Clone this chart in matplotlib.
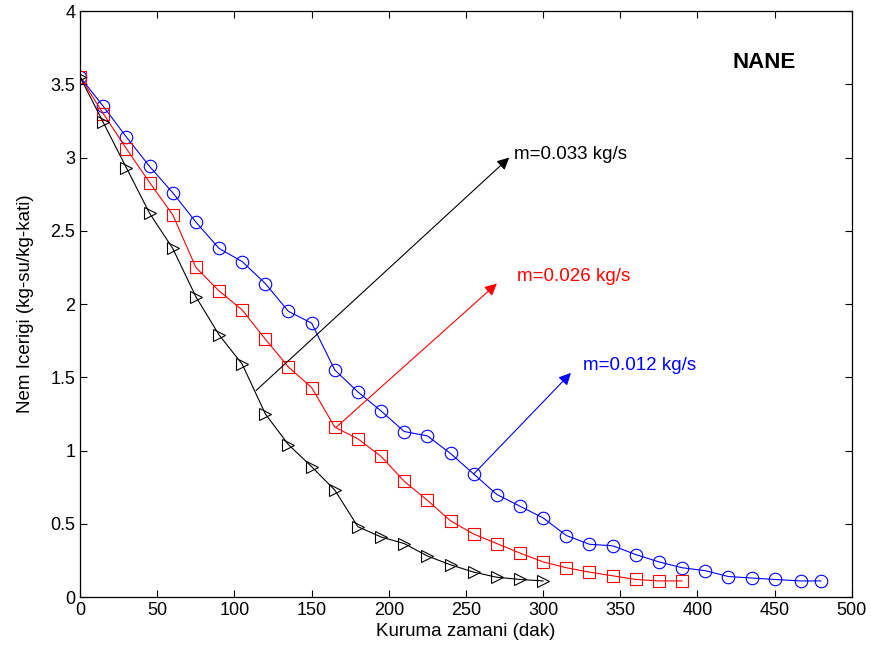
import matplotlib
matplotlib.use("Agg")
import matplotlib.pyplot as plt

plt.rcParams['font.family'] = ['Liberation Sans', 'DejaVu Sans']

# Kuruma zamani (dak) ve nem icerigi - NANE
t_012 = [0, 15, 30, 45, 60, 75, 90, 105, 120, 135, 150, 165, 180, 195, 210, 225,
         240, 255, 270, 285, 300, 315, 330, 345, 360, 375, 390, 405, 420, 435, 450,
         467, 480]
m_012 = [3.55, 3.35, 3.14, 2.94, 2.76, 2.56, 2.38, 2.29, 2.14, 1.95, 1.87, 1.55,
         1.40, 1.27, 1.13, 1.10, 0.98, 0.84, 0.70, 0.62, 0.54, 0.42, 0.36, 0.35,
         0.29, 0.24, 0.20, 0.18, 0.14, 0.13, 0.12, 0.11, 0.11]

t_026 = [0, 15, 30, 45, 60, 75, 90, 105, 120, 135, 150, 165, 180, 195, 210, 225,
         240, 255, 270, 285, 300, 315, 330, 345, 360, 375, 390]
m_026 = [3.55, 3.30, 3.06, 2.83, 2.61, 2.25, 2.09, 1.96, 1.76, 1.57, 1.43, 1.16,
         1.08, 0.96, 0.79, 0.66, 0.52, 0.43, 0.365, 0.30, 0.24, 0.20, 0.17, 0.145,
         0.12, 0.11, 0.11]

t_033 = [0, 15, 30, 45, 60, 75, 90, 105, 120, 135, 150, 165, 180, 195, 210, 225,
         240, 255, 270, 285, 300]
m_033 = [3.55, 3.24, 2.93, 2.62, 2.38, 2.05, 1.79, 1.59, 1.25, 1.04, 0.89, 0.73,
         0.48, 0.41, 0.365, 0.28, 0.22, 0.17, 0.135, 0.12, 0.11]

fig = plt.figure(figsize=(8.71, 6.55), dpi=100)
ax = fig.add_axes([0.092, 0.0885, 0.886, 0.8945])

ax.plot(t_012, m_012, '-o', color='blue', lw=0.8, ms=9, mfc='none', mew=0.8)
ax.plot(t_026, m_026, '-s', color='red', lw=0.8, ms=8.5, mfc='none', mew=0.8)
ax.plot(t_033, m_033, '->', color='black', lw=0.8, ms=8.5, mfc='none', mew=0.8)

# oklar ve etiketler
arrows = [
    ((114, 1.41), (278, 3.0), 'black', (281, 3.02), 'm=0.033 kg/s'),
    ((166, 1.16), (270, 2.14), 'red', (283, 2.19), 'm=0.026 kg/s'),
    ((255, 0.84), (318, 1.53), 'blue', (326, 1.58), 'm=0.012 kg/s'),
]
for start, tip, c, txt_pos, txt in arrows:
    ax.annotate('', xy=tip, xytext=start,
                arrowprops=dict(arrowstyle='-|>', color=c, lw=0.8,
                                mutation_scale=18, shrinkA=0, shrinkB=0))
    ax.text(txt_pos[0], txt_pos[1], txt, color=c, fontsize=13.5,
            ha='left', va='center')

ax.text(443, 3.65, 'NANE', fontsize=16, fontweight='bold', ha='center', va='center')

ax.set_xlim(0, 500)
ax.set_ylim(0, 4)
ax.set_xticks(range(0, 501, 50))
ax.set_yticks([0, 0.5, 1, 1.5, 2, 2.5, 3, 3.5, 4])
ax.set_yticklabels(['0', '0.5', '1', '1.5', '2', '2.5', '3', '3.5', '4'])
ax.tick_params(direction='in', top=True, right=True, labelsize=13, length=5, width=0.8)
for s in ax.spines.values():
    s.set_linewidth(0.9)

ax.set_xlabel('Kuruma zamani (dak)', fontsize=13.5, labelpad=3)
ax.set_ylabel('Nem Icerigi (kg-su/kg-kati)', fontsize=13.5, labelpad=12)

fig.savefig('out.png', dpi=100)
